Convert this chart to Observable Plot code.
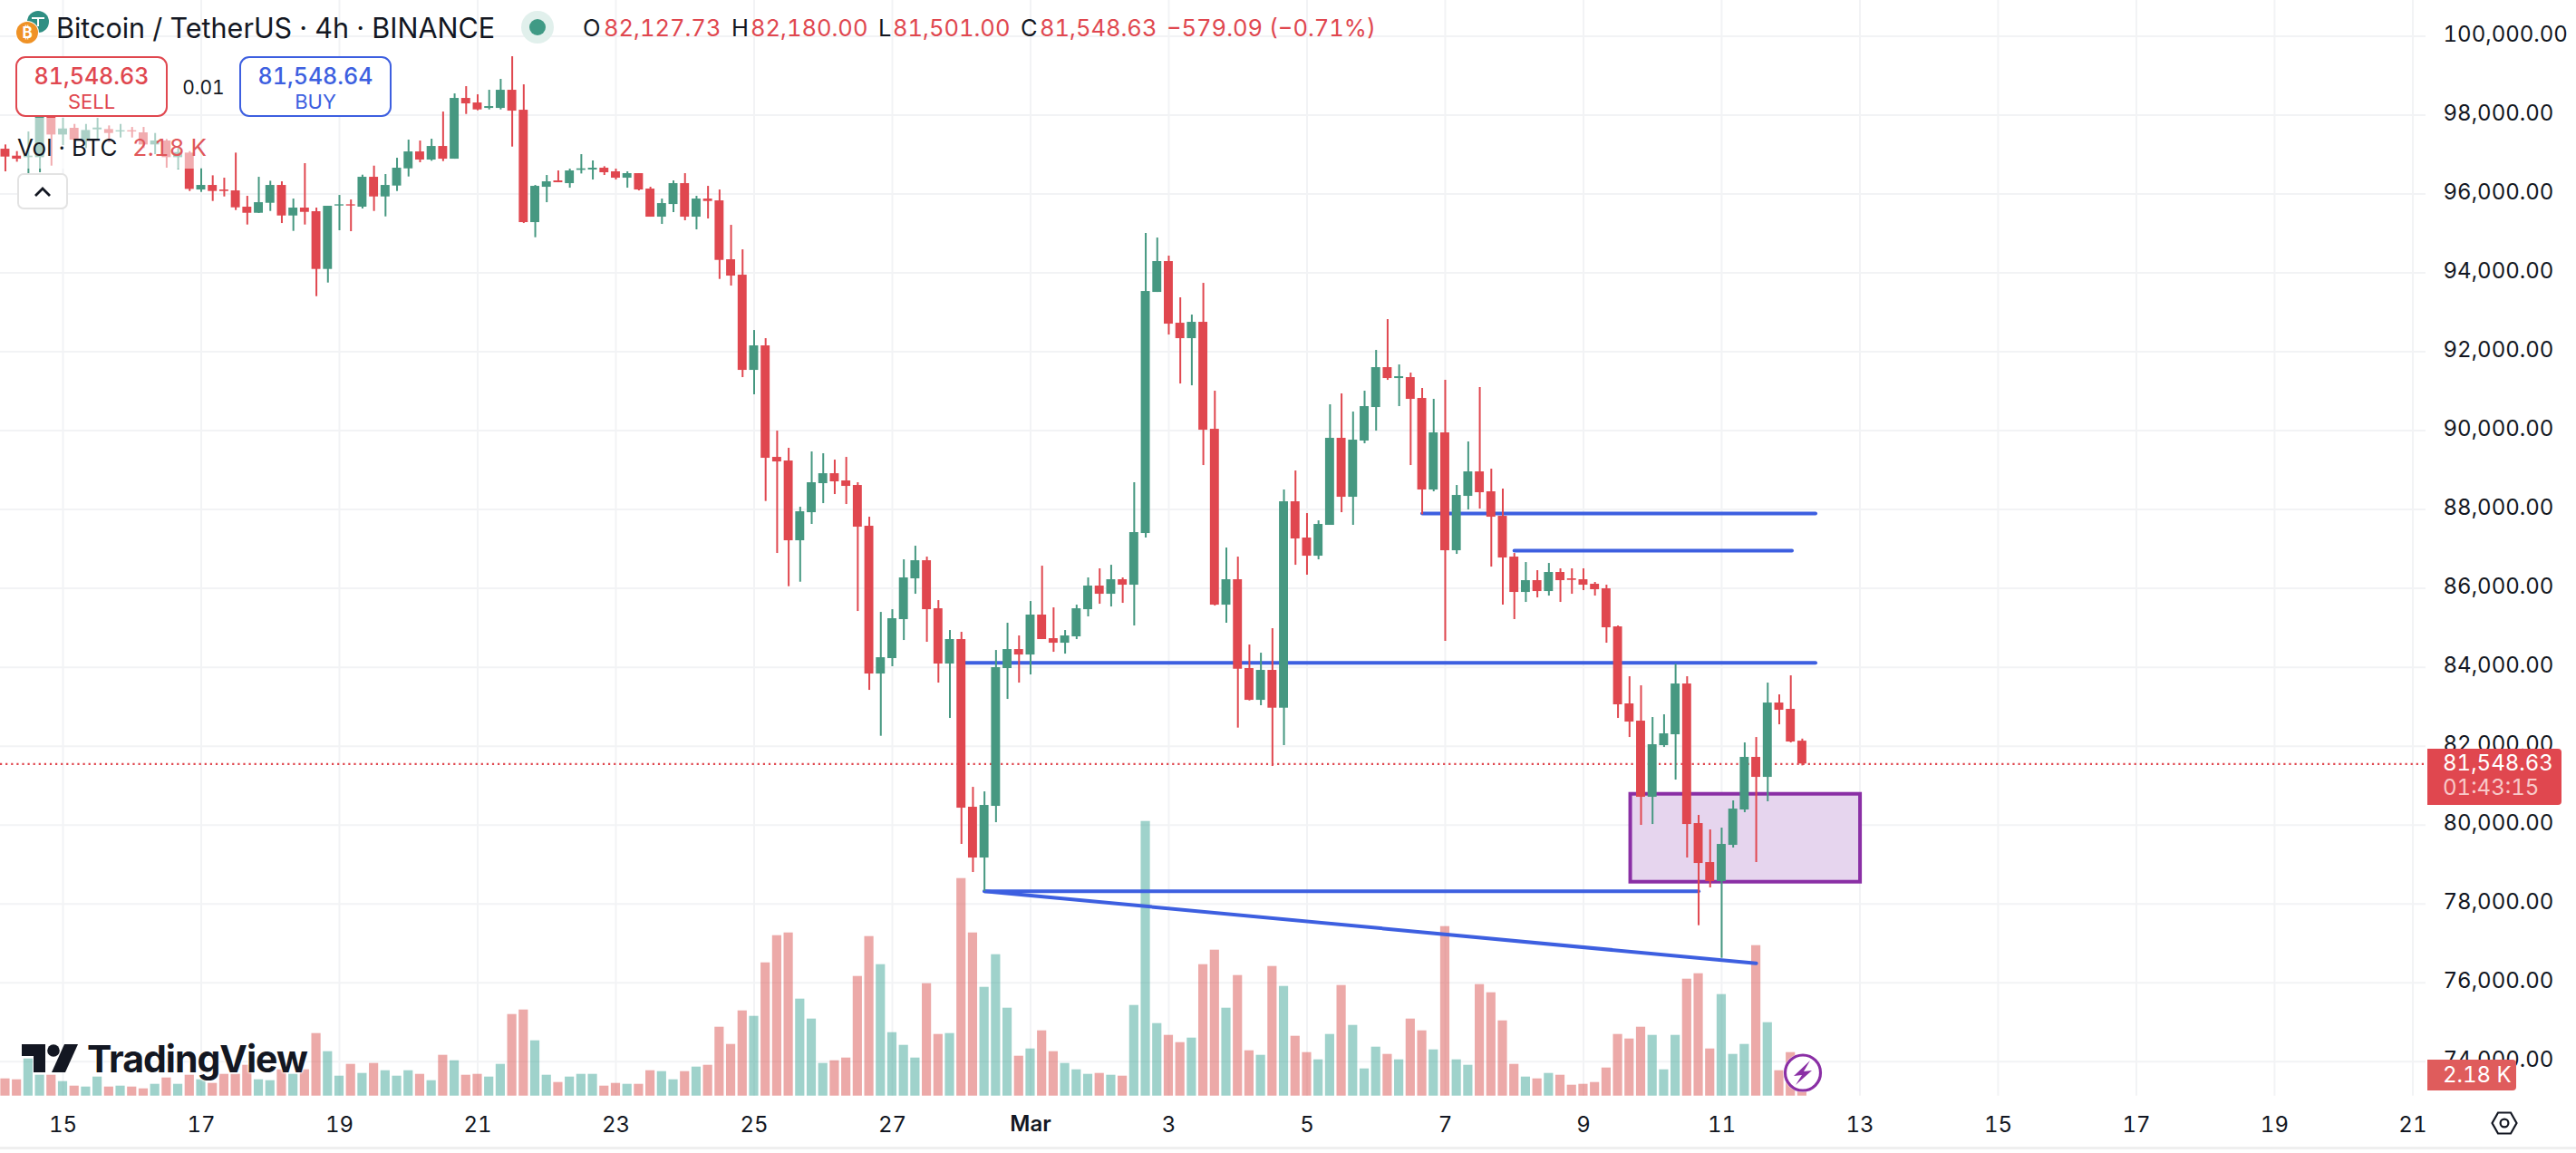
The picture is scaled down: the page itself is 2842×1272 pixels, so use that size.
<!DOCTYPE html>
<html>
<head>
<meta charset="utf-8">
<script src="https://cdn.jsdelivr.net/npm/d3@7"></script>
<script src="https://cdn.jsdelivr.net/npm/@observablehq/plot@0.6"></script>
<style>
html,body{margin:0;padding:0;background:#fff;width:2842px;height:1272px;overflow:hidden}
#stage{position:relative;width:2842px;height:1272px;font-family:Inter,"Noto Sans",sans-serif;color:#131722;font-variant-numeric:tabular-nums}
#stage svg.abs,#stage .t,#stage .b{position:absolute}
.t{white-space:nowrap;line-height:1;transform:translateY(-50%)}
.b{box-sizing:border-box}
</style>
</head>
<body>
<div id="stage"></div>
<script>
// Candle index 0 = 15 Feb 00:00, one candle every 4 hours
const firstIndex = -5;
const opens = [97135,96959,96921,96921,98031,97495,97664,97342,97626,97633,
97572,97603,97549,97243,97342,96921,97036,96101,96216,96101,
96078,95665,95511,95764,96216,95442,95642,95550,94087,95695,
95726,95665,96423,95925,96201,96637,97066,96860,97204,96882,
98422,98307,98169,98169,98629,98123,95274,96170,96331,96262,
96599,96607,96653,96561,96400,96515,96124,95412,95733,96262,
95412,95871,95825,94332,93941,91528,92149,89322,89230,87208,
87920,88656,88908,88725,88610,87576,83830,84221,85209,86243,
86702,85484,84083,84703,80452,79165,80475,83968,84450,84312,
85324,84726,84611,84772,85461,86059,85852,86220,86082,87392,
93504,94286,92723,92332,92746,90034,85576,86220,83968,83163,
83922,82964,88196,87277,86817,87599,89805,88311,89736,90586,
91597,91321,91344,90816,88495,89943,86955,88334,88954,88449,
87828,86794,85898,86197,85921,86404,86243,86220,86105,85990,
85025,83072,82635,80705,82014,82290,83577,80038,79050,78567,
79487,80383,81716,81210,83094,82934,82127.73];
const highs = [97243,97074,97572,98300,98223,97917,97763,97763,97917,97725,
97763,97687,97687,97534,97380,97151,97074,96637,96461,96400,
97036,95940,96423,96323,96308,95871,96768,95642,95688,95963,
95848,96477,96706,96492,96905,97365,97342,97388,98077,98537,
98721,98514,98629,98905,99479,98767,96216,96469,96584,96630,
96997,96837,96691,96630,96561,96515,96170,95871,96331,96515,
95940,96193,96101,95205,94584,92539,92332,89988,89552,88058,
89460,89414,89253,89322,88679,87805,85392,85461,86725,87070,
86794,85691,84933,84887,80957,80842,84427,85117,84795,85668,
86564,85507,84933,85576,86266,86496,86587,86266,88679,94998,
94883,94424,93367,92930,93734,91000,87024,86794,84565,84358,
84979,88495,88977,87897,87713,90655,90931,90471,91000,92034,
92815,91666,91459,91069,90793,91275,88610,89713,91092,89023,
88518,86886,86656,86450,86633,86496,86496,86496,86151,86082,
85048,83761,83531,82727,82796,84075,83761,80245,79877,79923,
80613,82083,82221,83600,83301,83784,82180];
const lows = [96561,96806,96270,96538,96706,97227,97151,97151,97380,97304,
97419,97419,97151,96997,96653,96614,96063,96040,95810,95925,
95580,95213,95504,95557,95251,95052,95213,93397,93742,95067,
95044,95619,95557,95419,96063,96431,96791,96829,96821,96882,
98016,98108,98131,98131,97189,95251,94891,95779,96285,96147,
96507,96354,96469,96354,96147,96078,95412,95228,95527,95320,
95090,95366,93834,93665,91344,90908,88204,86886,86044,86158,
87622,88150,88380,88127,85415,83416,82252,84014,84680,85852,
84634,83600,82704,79510,78797,78315,80061,83186,83600,83807,
84703,84381,84335,84703,85278,85599,85530,85622,85048,87277,
93504,92424,91183,91137,89115,85553,85117,82459,83148,83026,
81486,82014,86587,86335,86725,87599,87920,87599,89667,89988,
91275,90609,89115,87867,88449,84657,86863,87989,88012,86541,
85576,85209,85645,85760,85806,85645,85852,85944,85806,84611,
82704,82221,79992,80015,81968,81141,79165,77449,78407,76622,
79418,80314,79050,80590,82543,82083,81501];
const closes = [96936,96882,96959,98031,97495,97648,97365,97610,97671,97534,
97603,97572,97243,97342,96921,97051,96116,96216,96063,96063,
95649,95511,95779,96216,95442,95642,95534,94087,95688,95726,
95695,96423,95925,96216,96653,97066,96860,97204,96882,98422,
98284,98131,98215,98629,98100,95274,96193,96308,96285,96584,
96637,96653,96538,96400,96515,96101,95412,95756,96262,95412,
95871,95810,94316,93918,91528,92149,89299,89207,87208,87943,
88679,88908,88702,88587,87553,83830,84243,85232,86266,86702,
85461,84083,84703,80429,79165,80498,83991,84450,84312,85324,
84703,84611,84795,85484,86059,85852,86220,86082,87415,93527,
94286,92700,92332,92746,90011,85576,86220,83952,83163,83922,
82964,88196,87254,86817,87622,89805,88311,89759,90609,91597,
91321,91367,90793,88495,89943,86955,88357,88954,88426,87805,
86771,85898,86197,85921,86404,86197,86204,86082,85967,85002,
83049,82612,80705,82037,82313,83577,80015,79027,78567,79510,
80406,81716,81210,83094,82911,82106,81548.63];
// Volume in thousands of BTC
const volumes = [1.9,1.8,4.1,2.3,2.3,1.6,1.1,1.0,2.1,1.0,
1.1,1.0,0.8,1.3,2.0,1.3,2.3,1.8,1.4,2.4,
2.4,3.4,1.8,1.7,2.9,2.4,2.9,6.9,4.9,2.2,
3.5,2.5,3.6,2.8,2.2,2.8,2.4,1.7,4.5,3.9,
2.3,2.4,2.1,3.5,9.0,9.5,6.1,2.3,1.5,2.1,
2.4,2.4,1.1,1.4,1.3,1.3,2.8,2.7,1.8,2.7,
3.2,3.4,7.6,5.7,9.4,8.8,14.7,17.7,18.0,10.7,
8.5,3.6,3.9,4.2,13.2,17.6,14.5,7.0,5.6,4.2,
12.4,6.8,6.9,24.0,18.0,12.0,15.6,9.7,4.4,5.2,
7.2,4.9,3.6,2.9,2.4,2.5,2.3,2.2,10.0,30.3,
8.0,6.7,5.9,6.4,14.5,16.1,9.7,13.3,5.0,4.5,
14.3,12.1,6.6,4.8,4.0,6.8,12.2,7.8,3.0,5.4,
4.6,4.0,8.5,7.2,5.1,18.7,4.0,3.4,12.3,11.4,
8.3,3.5,2.1,1.9,2.5,2.3,1.2,1.3,1.5,3.1,
6.8,6.3,7.6,6.7,2.9,6.7,12.9,13.5,5.2,11.2,
4.6,5.7,16.6,8.1,2.8,4.8,2.18];
const priceTicks = [74000,76000,78000,80000,82000,84000,86000,88000,90000,92000,94000,96000,98000,100000];
const dateTickIndex = [0,12,24,36,48,60,72,84,96,108,120,132,144,156,168,180,192,204];
const dateTickLabels = ["15","17","19","21","23","25","27","Mar","3","5","7","9","11","13","15","17","19","21"];
const lastPrice = 81548.63;
// Drawings on the chart: [start index, start price, end index, end price]
const trendFrom = [[118,87897],[126,86955],[78,84113],[80,78322],[80,78322]];
const trendTo = [[152.15,87897],[150.1,86955],[152.15,84113],[142,78322],[147,76492]];
const zoneIndex = [136.1,156.05];
const zonePrice = [78552,80781];
const volBase = 73129, volScale = 229.8; // price units per thousand BTC on the shared axis

const RED="#e0474f", GREEN="#469881", BLUE="#3d5fe0", PURPLE="#8a2fa5", GRID="#f2f3f5";
const rows = opens.map((o,i)=>({k:firstIndex+i,o,h:highs[i],l:lows[i],c:closes[i],v:volumes[i],up:closes[i]>=o}));
const links = trendFrom.map((a,i)=>({x1:a[0],y1:a[1],x2:trendTo[i][0],y2:trendTo[i][1]}));
const pxPerIdx = 12.708;

const chart = Plot.plot({
  width:2842,height:1272,marginLeft:0,marginRight:166,marginTop:0,marginBottom:63.3,
  style:{fontFamily:"Inter, 'Noto Sans', sans-serif",background:"transparent",color:"#131722",fontVariantNumeric:"tabular-nums"},
  x:{type:"linear",domain:[-69/pxPerIdx,(2676-69)/pxPerIdx],axis:null},
  y:{type:"linear",domain:[volBase,100905],axis:null},
  marks:[
    Plot.ruleX(dateTickIndex,{stroke:GRID,strokeWidth:2}),
    Plot.ruleY(priceTicks,{stroke:GRID,strokeWidth:2}),
    Plot.rect(rows,{x1:d=>d.k-0.4,x2:d=>d.k+0.4,y1:volBase,y2:d=>volBase+d.v*volScale,
      fill:d=>d.up?"#3fa597":"#da5351",fillOpacity:0.5}),
    Plot.rect([0],{x1:zoneIndex[0],x2:zoneIndex[1],y1:zonePrice[0],y2:zonePrice[1],fill:"#e6d5ee",stroke:PURPLE,strokeWidth:4}),
    Plot.link(links,{x1:"x1",y1:"y1",x2:"x2",y2:"y2",stroke:BLUE,strokeWidth:4,strokeLinecap:"round"}),
    Plot.ruleY([lastPrice],{stroke:RED,strokeWidth:2.2,strokeDasharray:"2.2 3.9"}),
    Plot.ruleX(rows,{x:"k",y1:"l",y2:"h",stroke:d=>d.up?GREEN:RED,strokeWidth:2}),
    Plot.rect(rows,{x1:d=>d.k-0.39,x2:d=>d.k+0.39,y1:"o",y2:"c",fill:d=>d.up?GREEN:RED}),
    Plot.axisY({anchor:"right",ticks:priceTicks,tickSize:0,tickPadding:19,fontSize:24,label:null,dy:-1.5,
      tickFormat:d=>d3.format(",.2f")(d)}),
    Plot.axisX({ticks:dateTickIndex.filter((d,i)=>dateTickLabels[i]!=="Mar"),tickSize:0,tickPadding:23,fontSize:24,label:null,
      tickFormat:d=>dateTickLabels[dateTickIndex.indexOf(d)]}),
    Plot.text(["Mar"],{x:dateTickIndex[dateTickLabels.indexOf("Mar")],y:volBase,dy:31,text:d=>d,fontSize:24,fontWeight:600,fill:"#131722"})
  ]
});
const stage=document.getElementById("stage");
stage.appendChild(chart);
chart.style.position="absolute";chart.style.left="0";chart.style.top="0";

function box(x,y,w,h,css){const d=document.createElement("div");d.className="b";d.style.cssText+=`left:${x}px;top:${y}px;width:${w}px;height:${h}px;${css||""}`;stage.appendChild(d);return d;}
function txt(s,x,y,size,color,extra){const d=document.createElement("div");d.className="t";d.textContent=s;d.style.cssText+=`left:${x}px;top:${y}px;font-size:${size}px;color:${color};${extra||""}`;stage.appendChild(d);return d;}
function svg(x,y,w,h,inner){const d=document.createElement("div");d.className="b";d.style.cssText+=`left:${x}px;top:${y}px;width:${w}px;height:${h}px`;d.innerHTML=`<svg width="${w}" height="${h}" viewBox="0 0 ${w} ${h}">${inner}</svg>`;stage.appendChild(d);}

// translucent legend veil
box(25,130,190,56,"background:rgba(255,255,255,.55)");
// bottom border
box(0,1265,2842,3,"background:#efefef");

// header
svg(14,12,46,64,`<circle cx="28" cy="12" r="12" fill="#2f8f83"/><path d="M21 8h14M28 8v9" stroke="#fff" stroke-width="2"/><circle cx="16" cy="24" r="13" fill="#fff"/><circle cx="16" cy="24" r="12" fill="#ef9226"/><text x="16" y="30" font-size="17" font-weight="700" fill="#fff" text-anchor="middle" font-family="Inter">₿</text>`);
txt("Bitcoin / TetherUS · 4h · BINANCE",62,31,30.5,"#131722");
svg(575,12,36,36,`<circle cx="18" cy="18" r="18" fill="#e1f0ec"/><circle cx="18" cy="18" r="9" fill="#3f9a85"/>`);
const ohlc=[["O",643,"82,127.73",666],["H",807,"82,180.00",828],["L",969,"81,501.00",985],["C",1126,"81,548.63",1147]];
ohlc.forEach(a=>{txt(a[0],a[1],31,25.5,"#131722");txt(a[2],a[3],31,25.5,RED);});
txt("−579.09 (−0.71%)",1287,31,25.5,RED);

// sell / buy
box(17,62,168,67,`background:#fff;border:2.5px solid ${RED};border-radius:11px`);
txt("81,548.63",101,84,25,RED,"font-weight:500;transform:translate(-50%,-50%)");
txt("SELL",101,112,22,RED,"transform:translate(-50%,-50%)");
txt("0.01",224.5,96,21,"#131722","transform:translate(-50%,-50%)");
box(264,62,168,67,`background:#fff;border:2.5px solid ${BLUE};border-radius:11px`);
txt("81,548.64",348,84,25,BLUE,"font-weight:500;transform:translate(-50%,-50%)");
txt("BUY",348,112,22,BLUE,"transform:translate(-50%,-50%)");

// volume legend
txt("Vol · BTC",19,163,26,"#131722");
txt("2.18 K",146,163,26,"#e0575a");
box(19,191,56,40,"background:#fff;border:2px solid #e3e3e3;border-radius:7px");
svg(37,203,20,14,`<path d="M2 11 L10 3 L18 11" fill="none" stroke="#131722" stroke-width="2.8"/>`);

// right axis tags
box(2678,826,148,62,`background:${RED};border-radius:0 4px 4px 0`);
txt("81,548.63",2695,842,24,"#fff");
txt("01:43:15",2695,869,24,"#f8c9c9");
box(2678,1169,98,34,"background:#df5c5c;border-radius:0 4px 4px 0");
txt("2.18 K",2695,1186,24,"#fff");
svg(2748,1225,30,28,`<path d="M8 2.5h14l6.5 11.5l-6.5 11.5h-14l-6.5-11.5z" fill="none" stroke="#131722" stroke-width="2.2"/><circle cx="15" cy="14" r="4.4" fill="none" stroke="#131722" stroke-width="2.2"/>`);

// lightning badge
svg(1965,1160,48,48,`<circle cx="24" cy="23.5" r="21.5" fill="#fff" fill-opacity=".85"/><circle cx="24" cy="23.5" r="19.5" fill="#fff" stroke="${PURPLE}" stroke-width="3.2"/><path d="M32 10 L14 27 L23 26 L16 37 L34 21 L25 22 Z" fill="${PURPLE}"/>`);

// TradingView logo
svg(24,1152,62,31,`<path d="M0 0H26V31H13V13H0Z" fill="#131722"/><circle cx="35" cy="7" r="6.8" fill="#131722"/><path d="M47 0H62L48 31H33Z" fill="#131722"/>`);
txt("TradingView",96,1168,41,"#131722","font-weight:700;letter-spacing:-1px;text-shadow:0 0 3px #fff,0 0 3px #fff,0 0 3px #fff");
</script>
</body>
</html>
